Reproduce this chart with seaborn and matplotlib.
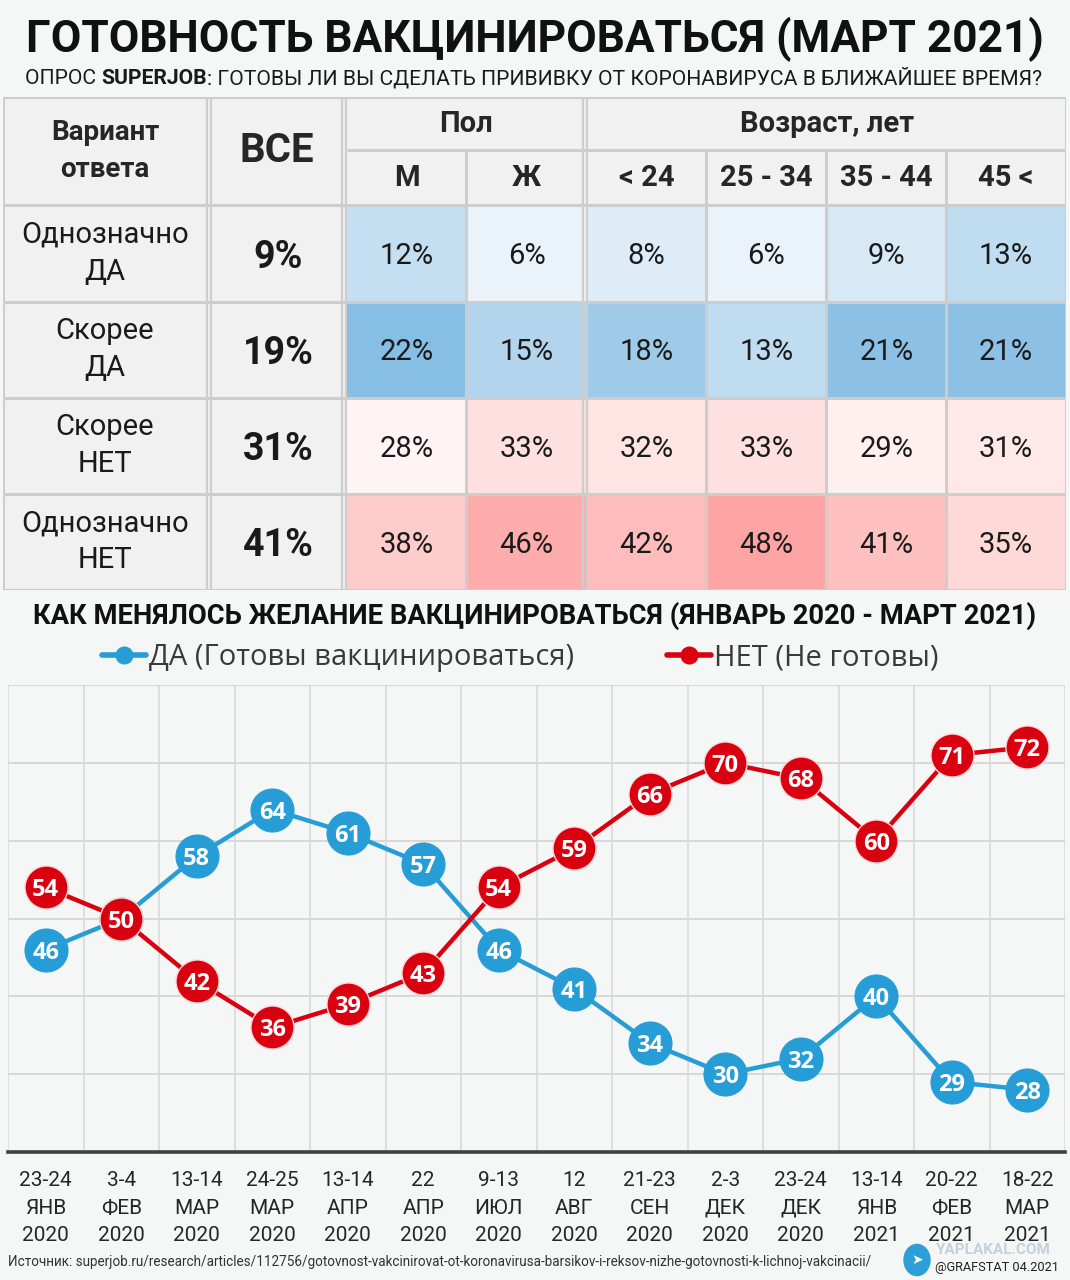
import numpy as np
import pandas as pd
import seaborn as sns
import matplotlib
matplotlib.use("Agg")
import matplotlib.pyplot as plt
from matplotlib import font_manager
from matplotlib.colors import LinearSegmentedColormap
from matplotlib.lines import Line2D
from matplotlib.patches import Rectangle, Circle

# --- table data (March 2021, Superjob) ---
answers = ["Однозначно\nДА", "Скорее\nДА", "Скорее\nНЕТ", "Однозначно\nНЕТ"]
is_yes = [True, True, False, False]
total = [9, 19, 31, 41]
groups = ["М", "Ж", "< 24", "25 - 34", "35 - 44", "45 <"]
male = [12, 22, 28, 38]
female = [6, 15, 33, 46]
age_u24 = [8, 18, 32, 42]
age_25_34 = [6, 13, 33, 48]
age_35_44 = [9, 21, 29, 41]
age_45 = [13, 21, 31, 35]

# --- trend data ---
dates = ["23-24\nЯНВ\n2020", "3-4\nФЕВ\n2020", "13-14\nМАР\n2020", "24-25\nМАР\n2020",
         "13-14\nАПР\n2020", "22\nАПР\n2020", "9-13\nИЮЛ\n2020", "12\nАВГ\n2020",
         "21-23\nСЕН\n2020", "2-3\nДЕК\n2020", "23-24\nДЕК\n2020", "13-14\nЯНВ\n2021",
         "20-22\nФЕВ\n2021", "18-22\nМАР\n2021"]
yes_share = [46, 50, 58, 64, 61, 57, 46, 41, 34, 30, 32, 40, 29, 28]
no_share = [54, 50, 42, 36, 39, 43, 54, 59, 66, 70, 68, 60, 71, 72]

BG = "#f5f6f6"
CELL = "#f1f1f1"
LINE = "#cdcdcd"
BLUE = "#269dd6"
RED = "#d9000f"

sns.set_theme(style="white")
names = {f.name for f in font_manager.fontManager.ttflist}
NARROW = "Liberation Sans Narrow" if "Liberation Sans Narrow" in names else "Roboto"
plt.rcParams["font.family"] = ["Roboto", "DejaVu Sans"]

W, H = 1070, 1280
fig = plt.figure(figsize=(W / 100, H / 100), dpi=100, facecolor=BG)


def fx(px):
    return px / W


def fy(py):
    return 1 - py / H


# ---------------- table ----------------
ax = fig.add_axes([fx(3), fy(590), (1066 - 3) / W, (590 - 97) / H])
df = pd.DataFrame(dict(zip(groups, [male, female, age_u24, age_25_34, age_35_44, age_45])),
                  index=answers)
labels = df.map(lambda v: f"{v}%")
yes_rows = np.repeat(np.array(is_yes)[:, None], len(groups), axis=1)

blue_cmap = LinearSegmentedColormap.from_list("da", ["#f1f6fb", "#86bee4"])
red_cmap = LinearSegmentedColormap.from_list("net", ["#fff4f4", "#ffa4a4"])
akw = dict(fontsize=21, color="#1a1a1a", va="center_baseline")
sns.heatmap(df, mask=~yes_rows, cmap=blue_cmap, vmin=5, vmax=22, cbar=False,
            annot=labels, fmt="", annot_kws=akw, ax=ax)
sns.heatmap(df, mask=yes_rows, cmap=red_cmap, vmin=28, vmax=48, cbar=False,
            annot=labels, fmt="", annot_kws=akw, ax=ax)


def X(px):
    return (px - 347) / ((1066 - 347) / 6)


def Y(py):
    return (py - 205) / ((590 - 205) / 4)


ax.set_xlim(X(3), X(1066))
ax.set_ylim(4, Y(97))
ax.set_axis_off()

# gray header / label cells
ax.add_patch(Rectangle((X(3), Y(97)), X(1066) - X(3), -Y(97), color=CELL, zorder=0))
ax.add_patch(Rectangle((X(3), 0), X(347) - X(3), 4, color=CELL, zorder=0))


def hline(py, x0=3, x1=1066, lw=2.2):
    ax.plot([X(x0), X(x1)], [Y(py), Y(py)], color=LINE, lw=lw, solid_capstyle="butt", zorder=5)


def vline(px, y0=97, y1=590, lw=2.2):
    ax.plot([X(px), X(px)], [Y(y0), Y(y1)], color=LINE, lw=lw, solid_capstyle="butt", zorder=5)


for py in [97, 205, 302, 398, 494, 590]:
    hline(py)
hline(150, 347, 1066)
for px in [3, 466, 706, 826, 946, 1066]:
    vline(px, 150 if px in (466, 706, 826, 946) else 97)
for px in [207, 342, 583]:
    vline(px, lw=1.6)
    vline(px + 4, lw=1.6)

ax.text(X(105), Y(151), "Вариант\nответа", ha="center", va="center", fontsize=20,
        weight="bold", linespacing=1.5)
ax.text(X(277), Y(151), "ВСЕ", ha="center", va="center", fontsize=29, weight="bold")
ax.text(X(466), Y(124), "Пол", ha="center", va="center", fontsize=21, weight="bold")
ax.text(X(827), Y(124), "Возраст, лет", ha="center", va="center", fontsize=21, weight="bold")
for j, g in enumerate(groups):
    ax.text(j + 0.5, Y(178), g, ha="center", va="center", fontsize=21, weight="bold")
for i, (a, t) in enumerate(zip(answers, total)):
    ax.text(X(105), i + 0.5, a, ha="center", va="center", fontsize=21, linespacing=1.42,
            color="#1a1a1a")
    ax.text(X(278), i + 0.5, f"{t}%", ha="center", va="center_baseline", fontsize=27,
            weight="bold", color="#1a1a1a")

# ---------------- trend chart ----------------
ax2 = fig.add_axes([fx(8), fy(1152), (1065 - 8) / W, (1152 - 685) / H])
ax2.set_facecolor(BG)
trend = pd.DataFrame({"pos": np.arange(len(dates)), "yes": yes_share, "no": no_share})
sns.lineplot(data=trend, x="pos", y="yes", color=BLUE, lw=3.2, marker="o", markersize=31,
             markeredgecolor=BLUE, ax=ax2, legend=False, zorder=3)
sns.lineplot(data=trend, x="pos", y="no", color=RED, lw=3.2, marker="o", markersize=31,
             markeredgecolor="#ffd6d6", markeredgewidth=1, ax=ax2, legend=False, zorder=5)
for i, v in enumerate(yes_share):
    ax2.text(i, v, str(v), ha="center", va="center_baseline", color="white", fontsize=17,
             weight="bold", family="Open Sans", zorder=4)
for i, v in enumerate(no_share):
    ax2.text(i, v, str(v), ha="center", va="center_baseline", color="white", fontsize=17,
             weight="bold", family="Open Sans", zorder=6)

ax2.set_xlim(-0.5, len(dates) - 0.5)
ax2.set_ylim(20, 80)
ax2.set_yticks(range(30, 81, 10))
ax2.set_xticks(range(len(dates)))
ax2.set_xticklabels(dates, fontsize=15, family=NARROW, linespacing=1.55, color="#262626")
ax2.set_xticks(np.arange(-0.5, len(dates)), minor=True)
ax2.set_xlabel("")
ax2.set_ylabel("")
ax2.grid(False)
ax2.grid(axis="y", which="major", color="#d8d8d8", lw=1.4)
ax2.grid(axis="x", which="minor", color="#dedede", lw=1.4)
ax2.tick_params(axis="x", which="major", length=0, pad=14)
ax2.tick_params(axis="x", which="minor", length=7, width=2, color="#404040", direction="out")
ax2.tick_params(axis="y", length=0, labelleft=False)
for s in ["top", "left", "right"]:
    ax2.spines[s].set_visible(False)
ax2.spines["bottom"].set_color("#404040")
ax2.spines["bottom"].set_linewidth(2.6)

handles = [Line2D([], [], color=BLUE, lw=4, marker="o", markersize=12),
           Line2D([], [], color=RED, lw=4, marker="o", markersize=12)]
leg = fig.legend(handles, ["ДА (Готовы вакцинироваться)", "НЕТ (Не готовы)"], loc="center",
                 bbox_to_anchor=(fx(520), fy(658)), ncol=2, frameon=False,
                 handlelength=1.5, handletextpad=0.1, columnspacing=3.2,
                 prop={"family": "Open Sans", "size": 21})
for t in leg.get_texts():
    t.set_color("#3a3a3a")

# ---------------- titles and footer ----------------
title = fig.text(fx(535), fy(52), "ГОТОВНОСТЬ ВАКЦИНИРОВАТЬСЯ (МАРТ 2021)", ha="center",
                 va="baseline", fontsize=34, weight="bold", family=NARROW, color="#111111")
sub1 = fig.text(fx(25), fy(84), "ОПРОС ", ha="left", va="baseline", fontsize=15,
                family=NARROW, color="#1a1a1a")
sub2 = fig.text(0, 0, "SUPERJOB", ha="left", va="baseline", fontsize=15, weight="bold",
                family=NARROW, color="#1a1a1a")
sub3 = fig.text(0, 0, ": ГОТОВЫ ЛИ ВЫ СДЕЛАТЬ ПРИВИВКУ ОТ КОРОНАВИРУСА В БЛИЖАЙШЕЕ ВРЕМЯ?",
                ha="left", va="baseline", fontsize=15, family=NARROW, color="#1a1a1a")
section = fig.text(fx(535), fy(624), "КАК МЕНЯЛОСЬ ЖЕЛАНИЕ ВАКЦИНИРОВАТЬСЯ (ЯНВАРЬ 2020 - МАРТ 2021)",
                   ha="center", va="baseline", fontsize=20, weight="bold", family=NARROW,
                   color="#111111")
source = fig.text(fx(8), fy(1266), "Источник: superjob.ru/research/articles/112756/gotovnost-vakcinirovat-"
                  "ot-koronavirusa-barsikov-i-reksov-nizhe-gotovnosti-k-lichnoj-vakcinacii/",
                  ha="left", va="baseline", fontsize=12, family=NARROW, color="#333333")
fig.text(fx(936), fy(1254), "YAPLAKAL.COM", ha="left", va="baseline", fontsize=11,
         weight="bold", color="#c3d1df", family=NARROW, zorder=0)
brand = fig.text(fx(935), fy(1271), "@GRAFSTAT 04.2021", ha="left", va="baseline", fontsize=14,
                 family=NARROW, color="#222222")
fig.add_artist(Circle((fx(917), fy(1260)), 13 / W, color="#2c9fd9",
                      transform=fig.transFigure))
fig.text(fx(917), fy(1260), "➤", ha="center", va="center", fontsize=10, color="white",
         family="DejaVu Sans")

# fit text widths to the reference layout
fig.canvas.draw()
r = fig.canvas.get_renderer()


def fit(t, target):
    w = t.get_window_extent(r).width
    t.set_fontsize(t.get_fontsize() * target / w)


fit(title, 1020)
fit(section, 1000)
fit(source, 862)
fit(brand, 125)
# subtitle: three pieces in a row
sw = sum(t.get_window_extent(r).width for t in (sub1, sub2, sub3))
for t in (sub1, sub2, sub3):
    t.set_fontsize(t.get_fontsize() * 1020 / sw)
fig.canvas.draw()
x = sub1.get_window_extent(r).x1
sub2.set_position((x / W, fy(84)))
x = sub2.get_window_extent(r).x1
sub3.set_position((x / W, fy(84)))

fig.savefig("out.png", dpi=100, facecolor=BG)
